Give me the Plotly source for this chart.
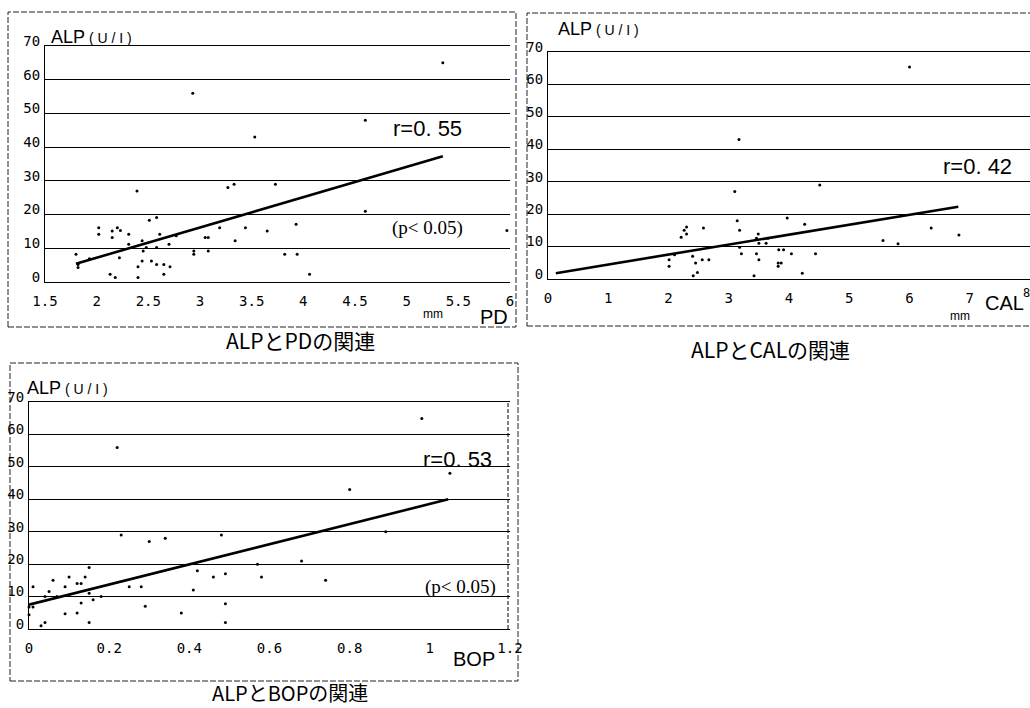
import plotly.graph_objects as go

W, H = 1030, 708

# ---------------- data ----------------
pd_x = [5.35, 2.93, 4.6, 3.53, 2.39, 3.27, 3.33, 3.73, 4.6, 2.51, 2.58, 2.02, 2.02, 2.15, 2.15,
        2.2, 2.23, 2.31, 2.31, 2.44, 2.61, 2.7, 2.77, 3.05, 3.08, 3.19, 3.44, 3.65, 3.34, 3.93,
        2.94, 2.94, 3.08, 1.8, 1.93, 2.22, 2.35, 2.45, 2.48, 2.58, 2.44, 2.53, 2.58, 2.65, 2.71,
        2.4, 2.13, 2.18, 2.4, 2.65, 3.82, 3.94, 4.06, 1.82, 1.82, 5.97]
pd_y = [65, 56, 48, 43, 27, 28, 29, 29, 21, 18.3, 19.1, 16.1, 14.2, 15.1, 13.2,
        16.1, 15.3, 14.2, 11.2, 12.2, 14.2, 11.2, 13.7, 13.2, 13.2, 16.1, 16.1, 15.1, 12.2, 17.1,
        9.2, 8.2, 9.2, 8.2, 6.9, 7.2, 10.2, 9.2, 10.2, 10.2, 6.2, 6.2, 5.2, 5.2, 4.5,
        4.5, 2.3, 1.3, 1.3, 2.3, 8.2, 8.2, 2.3, 5.2, 4.3, 15.3]
pd_fit_x = [1.8, 5.35]
pd_fit_y = [5.4, 37.3]

cal_x = [6.0, 3.17, 3.1, 4.51, 3.14, 3.18, 3.97, 4.26, 6.36, 6.82, 5.56, 5.81, 2.21, 2.26, 2.3,
         2.3, 2.58, 3.49, 3.46, 3.5, 3.62, 3.65, 3.18, 3.83, 3.91, 3.21, 3.46, 4.04, 4.44, 2.01,
         2.01, 2.1, 2.4, 2.45, 2.56, 2.67, 3.5, 3.82, 3.87, 3.82, 2.41, 2.48, 3.42, 4.22]
cal_y = [65.4, 43, 27, 29, 18, 15, 18.8, 16.9, 15.7, 13.6, 11.9, 10.9, 12.9, 15, 16,
         13.9, 15.7, 13.9, 12.6, 11, 11, 12.6, 9.8, 9, 9, 7.8, 7.8, 7.8, 7.8, 5.9,
         3.9, 7.5, 7, 4.9, 5.9, 5.9, 5.9, 4.9, 4.9, 3.9, 1, 2, 1, 1.8]
cal_fit_x = [0.13, 6.81]
cal_fit_y = [1.8, 22.3]

bop_x = [0.98, 0.22, 1.05, 0.8, 0.23, 0.30, 0.34, 0.48, 0.68, 0.57, 0.42, 0.49, 0.46, 0.58, 0.74,
         0.41, 0.15, 0.14, 0.10, 0.06, 0.09, 0.12, 0.13, 0.01, 0.05, 0.04, 0.07, 0.15, 0.18, 0.25,
         0.28, 0.16, 0.13, 0.29, 0.49, 0.38, 0.09, 0.12, 0.15, 0.03, 0.04, 0.49, 0.0, 0.01, 0.0, 0.89]
bop_y = [64.9, 56, 48, 43, 29, 27, 28, 29, 21, 20, 18, 17, 16, 16, 15,
         12, 19, 16, 16, 15, 13, 14, 14, 13, 11.6, 10, 10, 11, 10, 13,
         13, 9, 8, 7, 7.8, 4.9, 4.7, 4.9, 2, 1, 2, 2, 6.8, 6.8, 4.4, 30]
bop_fit_x = [0.0, 1.046]
bop_fit_y = [7.5, 40]

y_ticks = [0, 10, 20, 30, 40, 50, 60, 70]
pd_ticks = [1.5, 2, 2.5, 3, 3.5, 4, 4.5, 5, 5.5, 6]
pd_ticktext = ["1.5", "2", "2.5", "3", "3.5", "4", "4.5", "5", "5.5", "6"]
cal_ticks = [0, 1, 2, 3, 4, 5, 6, 7]
cal_last_tick = "8"
bop_ticks = [0, 0.2, 0.4, 0.6, 0.8, 1, 1.2]
bop_ticktext = ["0", "0.2", "0.4", "0.6", "0.8", "1", "1.2"]

captions = ["ALPとPDの関連", "ALPとCALの関連", "ALPとBOPの関連"]

# ---------------- helpers ----------------
def px(x):
    return x / W

def py(y):
    return 1 - y / H

SANS = "Liberation Sans, Arial, sans-serif"
MONO = "DejaVu Sans Mono, Liberation Mono, monospace"
SERIF = "Liberation Serif, DejaVu Serif, serif"
CJK = "Noto Sans CJK JP, Noto Sans, sans-serif"

fig = go.Figure()

panels = [
    dict(x=pd_x, y=pd_y, fx=pd_fit_x, fy=pd_fit_y, xa="x", ya="y"),
    dict(x=cal_x, y=cal_y, fx=cal_fit_x, fy=cal_fit_y, xa="x2", ya="y2"),
    dict(x=bop_x, y=bop_y, fx=bop_fit_x, fy=bop_fit_y, xa="x3", ya="y3"),
]
for p in panels:
    fig.add_trace(go.Scatter(x=p["x"], y=p["y"], mode="markers", xaxis=p["xa"], yaxis=p["ya"],
                             marker=dict(size=3, color="black"), showlegend=False, hoverinfo="skip",
                             cliponaxis=False))
    fig.add_trace(go.Scatter(x=p["fx"], y=p["fy"], mode="lines", xaxis=p["xa"], yaxis=p["ya"],
                             line=dict(color="black", width=2.6), showlegend=False, hoverinfo="skip"))

tickfont = dict(family=MONO, size=14, color="black")

def yaxis_cfg(y0, y1):
    return dict(domain=[py(y0), py(y1)], range=[0, 70], tickvals=y_ticks, showgrid=True,
                gridcolor="black", gridwidth=1, showline=True, linecolor="black", linewidth=1,
                ticks="", tickfont=tickfont, zeroline=False, ticklabelstandoff=1,
                ticklabelshift=-5, fixedrange=True, automargin=False)

def xaxis_cfg(x0, x1, rng, vals, text, anchor):
    return dict(domain=[px(x0), px(x1)], range=rng, tickvals=vals, ticktext=text, showgrid=False,
                showline=True, mirror=True, linecolor="black", linewidth=1, ticks="",
                tickfont=tickfont, zeroline=False, anchor=anchor, ticklabelstandoff=6,
                fixedrange=True, automargin=False)

fig.update_layout(
    width=W, height=H, autosize=False,
    margin=dict(l=0, r=0, t=0, b=0, pad=0),
    paper_bgcolor="white", plot_bgcolor="white",
    xaxis=xaxis_cfg(45, 510, [1.5, 6], pd_ticks, pd_ticktext, "y"),
    yaxis=yaxis_cfg(282, 46) | dict(anchor="x"),
    xaxis2=xaxis_cfg(548, 1030, [0, 8], cal_ticks, [str(v) for v in cal_ticks], "y2"),
    yaxis2=yaxis_cfg(279, 52) | dict(anchor="x2"),
    xaxis3=xaxis_cfg(29, 510, [0, 1.2], bop_ticks, bop_ticktext, "y3"),
    yaxis3=yaxis_cfg(629, 402) | dict(anchor="x3"),
)

# outer panel borders
shapes = []
for (x0, y0, x1, y1) in [(8, 12, 516, 327), (527, 13, 1036, 326), (10, 363, 518, 681)]:
    shapes.append(dict(type="rect", xref="paper", yref="paper", x0=px(x0), x1=px(x1),
                       y0=py(y1), y1=py(y0), line=dict(color="#222", width=1, dash="6px,2px"),
                       fillcolor="rgba(0,0,0,0)", layer="below"))
# right edge of plot area in BOP panel
shapes.append(dict(type="line", xref="paper", yref="paper", x0=px(508), x1=px(508),
                   y0=py(629), y1=py(402), line=dict(color="black", width=1, dash="4px,2px")))
fig.update_layout(shapes=shapes)

ann = []
def text(x, y, s, size, family=SANS, xanchor="center"):
    ann.append(dict(x=px(x), y=py(y), xref="paper", yref="paper", text=s, showarrow=False,
                    xanchor=xanchor, yanchor="middle", borderpad=0,
                    font=dict(family=family, size=size, color="black")))

# y axis titles
ytitle = "ALP<span style='font-size:14px'> ( U / I )</span>"
text(50, 37, ytitle, 18, xanchor="left")
text(557, 29, ytitle, 18, xanchor="left")
text(26, 388, ytitle, 18, xanchor="left")

# x axis titles
text(433, 314, "mm", 12)
text(494, 317, "PD", 20)
text(960, 316, "mm", 12)
text(1004, 303, "CAL", 20)
text(1022, 293, cal_last_tick, 12, family=MONO, xanchor="left")
text(474, 659, "BOP", 20)

# correlation annotations
text(427, 128, "r=0. 55", 22)
text(427, 228, "(p&lt; 0.05)", 19, family=SERIF)
text(977, 167, "r=0. 42", 22)
text(457, 459, "r=0. 53", 22)
text(460, 587, "(p&lt; 0.05)", 19, family=SERIF)

# captions
text(300, 340, captions[0], 21, family=CJK)
text(770, 349, captions[1], 21, family=CJK)
text(290, 692, captions[2], 20, family=CJK)

fig.update_layout(annotations=ann)

fig.write_html("out.html", config={"displayModeBar": False},
               post_script="document.body.style.margin='0';document.body.style.overflow='hidden';")
